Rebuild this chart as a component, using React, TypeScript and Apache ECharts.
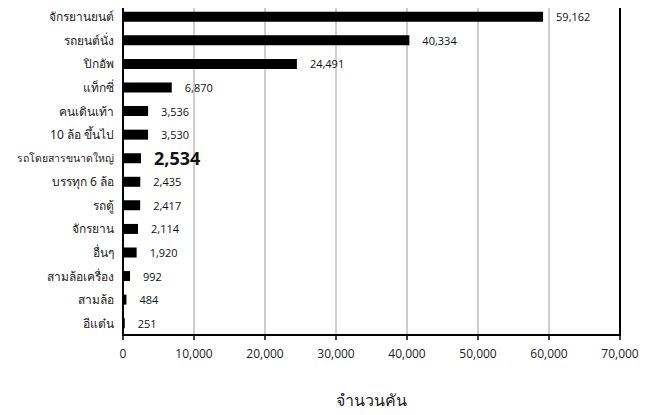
import React, { useEffect, useRef } from "react";
import * as echarts from "echarts";

const categories = [
  "จักรยานยนต์",
  "รถยนต์นั่ง",
  "ปิกอัพ",
  "แท็กซี่",
  "คนเดินเท้า",
  "10 ล้อ ขึ้นไป",
  "รถโดยสารขนาดใหญ่",
  "บรรทุก 6 ล้อ",
  "รถตู้",
  "จักรยาน",
  "อื่นๆ",
  "สามล้อเครื่อง",
  "สามล้อ",
  "อีแต๋น",
];
const counts = [59162, 40334, 24491, 6870, 3536, 3530, 2534, 2435, 2417, 2114, 1920, 992, 484, 251];
const highlighted = "รถโดยสารขนาดใหญ่";
const xTicks = [0, 10000, 20000, 30000, 40000, 50000, 60000, 70000];
const axisTitle = "จำนวนคัน";

const fmt = (v: number) => v.toLocaleString("en-US");

export default function App() {
  const ref = useRef<HTMLDivElement>(null);
  useEffect(() => {
    if (!ref.current) return;
    const chart = echarts.init(ref.current, null, { renderer: "svg" });
    const labelFont = "'Open Sans', 'Noto Sans', sans-serif";
    chart.setOption({
      animation: false,
      grid: {
        left: 123,
        right: 32,
        top: 5,
        bottom: 80,
        containLabel: false,
        outerBoundsMode: "none",
      },
      xAxis: {
        type: "value",
        min: xTicks[0],
        max: xTicks[xTicks.length - 1],
        interval: 10000,
        name: axisTitle,
        nameLocation: "middle",
        nameGap: 57,
        nameTextStyle: { fontSize: 16, color: "#222", fontFamily: "'Noto Sans', sans-serif" },
        axisLine: { show: true, lineStyle: { color: "#000", width: 2 } },
        axisTick: { show: true, length: 5, lineStyle: { color: "#000", width: 1.5 } },
        axisLabel: {
          formatter: (v: number) => fmt(v),
          fontSize: 12,
          color: "#222",
          margin: 12,
          fontFamily: labelFont,
        },
        splitLine: { show: true, lineStyle: { color: "#bdbdbd", width: 1.5 } },
      },
      yAxis: {
        type: "category",
        data: categories,
        inverse: true,
        axisLine: { show: true, lineStyle: { color: "#000", width: 2 } },
        axisTick: { show: false },
        axisLabel: {
          fontSize: 12,
          color: "#222",
          margin: 9,
          fontFamily: "'Noto Sans', 'DejaVu Sans', sans-serif",
          // the longest name gets a smaller size so it stays on the page
          formatter: (v: string) => (v === highlighted ? `{s|${v}}` : v),
          rich: { s: { fontSize: 10.5, color: "#222" } },
        },
        splitLine: { show: false },
      },
      series: [
        {
          type: "bar",
          barWidth: 10,
          itemStyle: { color: "#000" },
          label: {
            show: true,
            position: "right",
            distance: 13,
            fontSize: 11,
            color: "#111",
            fontFamily: labelFont,
            formatter: (p: any) => fmt(p.value),
          },
          data: counts.map((v, i) =>
            categories[i] === highlighted
              ? { value: v, label: { fontSize: 18, fontWeight: "bold", distance: 13 } }
              : v
          ),
        },
      ],
    });

    // Black frame drawn over the plot area's rectangle, above the grid lines.
    const rect = (chart as any).getModel().getComponent("grid", 0).coordinateSystem.getRect();
    chart.setOption({
      graphic: [
        {
          type: "rect",
          silent: true,
          z: 100,
          shape: { x: rect.x, y: rect.y, width: rect.width, height: rect.height },
          style: { fill: "none", stroke: "#000", lineWidth: 2 },
        },
      ],
    });
    return () => chart.dispose();
  }, []);
  return <div ref={ref} style={{ width: 652, height: 415, margin: -8 }} />;
}
